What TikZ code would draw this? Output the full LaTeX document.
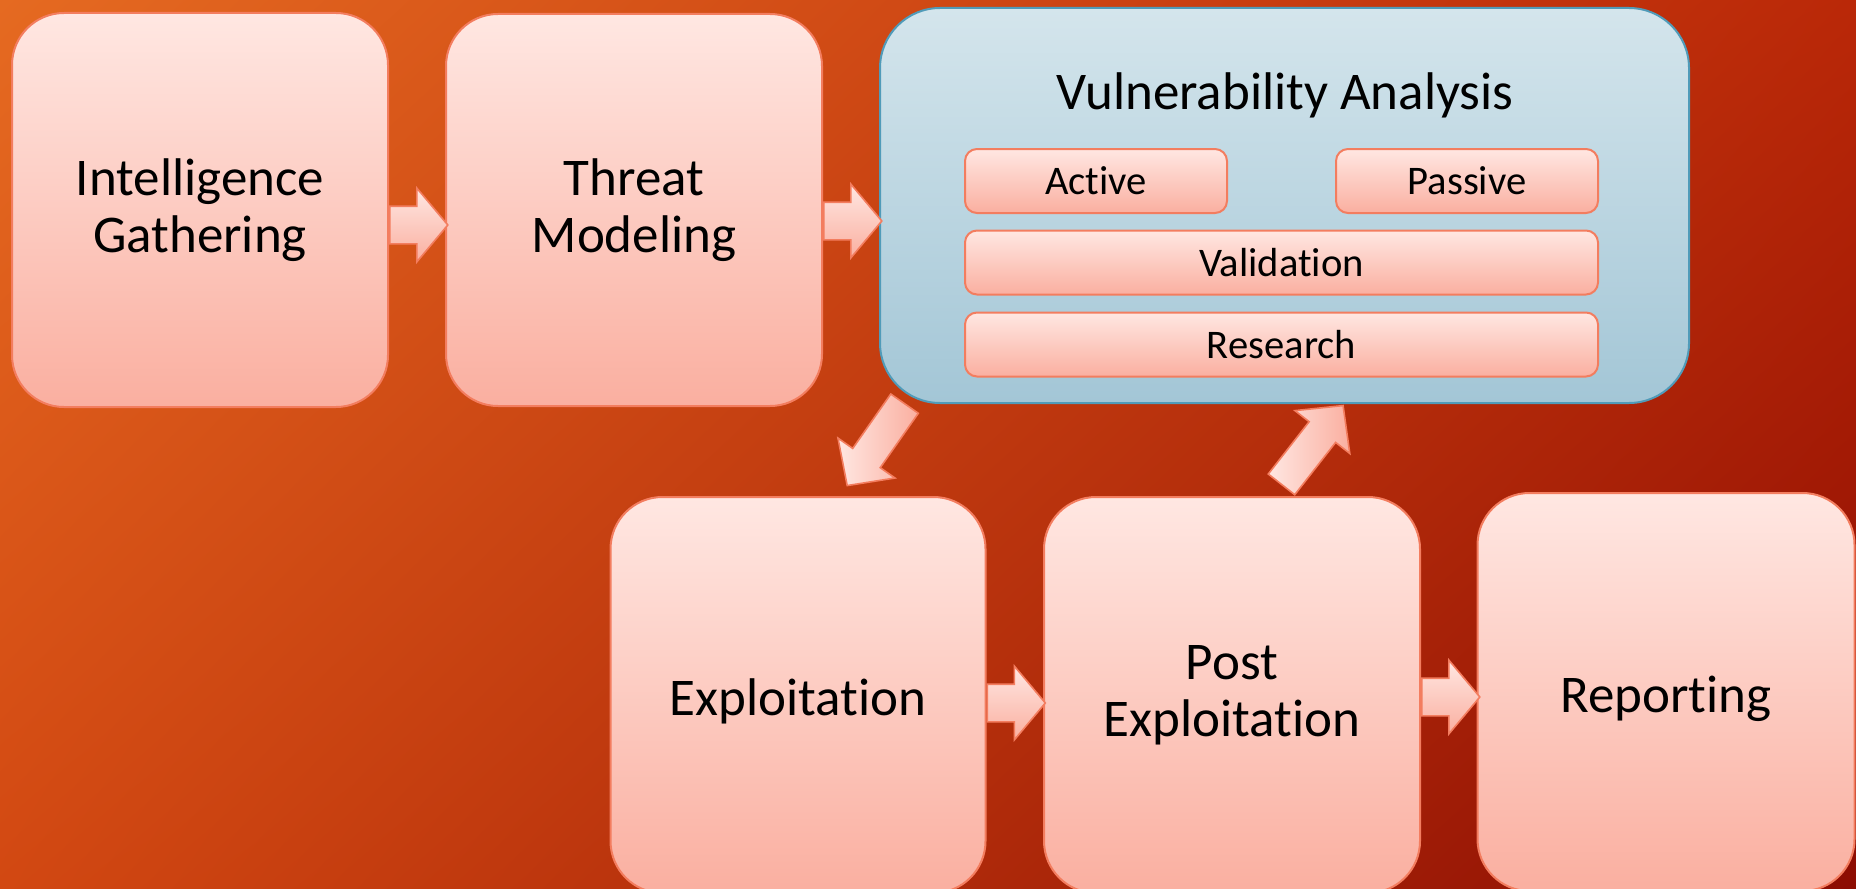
\documentclass[tikz,border=0pt]{standalone}
\usepackage{fontspec}
\setmainfont{Carlito}[Ligatures=NoCommon]
\usetikzlibrary{shapes.arrows,calc,shadings}

\definecolor{bgA}{RGB}{229,106,33}
\definecolor{bgB}{RGB}{186,40,8}
\definecolor{bgC}{RGB}{210,72,18}
\definecolor{bgD}{RGB}{140,12,2}
\definecolor{pinkTop}{RGB}{255,231,226}
\definecolor{pinkBot}{RGB}{250,175,160}
\definecolor{coral}{RGB}{243,125,95}
\definecolor{blueTop}{RGB}{212,229,236}
\definecolor{blueBot}{RGB}{163,198,214}
\definecolor{blueLine}{RGB}{80,155,185}

\tikzset{every picture/.style={line width=1pt}}
\tikzset{
  stage/.style={draw=coral, rounded corners=26pt, top color=pinkTop, bottom color=pinkBot,
    align=center, inner sep=0pt, font=\fontsize{26.5}{28.5}\selectfont,
    execute at begin node=\rule{0pt}{25pt}},
  substage/.style={draw=coral, rounded corners=6pt, top color=pinkTop, bottom color=pinkBot,
    inner sep=0pt, minimum height=32pt, font=\fontsize{20.3}{22}\selectfont},
  vulnbox/.style={draw=blueLine, rounded corners=30pt, top color=blueTop, bottom color=blueBot, inner sep=0pt},
  flatarrow/.style={single arrow, anchor=tail, draw=coral, line width=0.8pt, top color=pinkTop, bottom color=pinkBot,
    inner xsep=0pt, inner ysep=9pt, minimum height=29pt, single arrow head extend=9pt, single arrow tip angle=100},
  slantarrow/.style={single arrow, anchor=tail, draw=coral, line width=0.8pt, left color=pinkTop, right color=pinkBot,
    inner xsep=0pt, inner ysep=8pt, minimum height=50pt, single arrow head extend=9pt, single arrow tip angle=92}
}

\begin{document}
\begin{tikzpicture}[x=0.5pt,y=0.5pt,yscale=-1,xscale=1]
\useasboundingbox (0,0) rectangle (1856,888);
\clip (0,0) rectangle (1856,888);

%Background
\shade [upper left=bgA, upper right=bgB, lower left=bgC, lower right=bgD] (0,0) rectangle (1856,888);

%Top row
\node [stage, minimum width=188pt, minimum height=197pt] (intel) at (200,210) {Intelligence\\Gathering};
\node [stage, minimum width=188pt, minimum height=196pt] (threat) at (634,210) {Threat\\Modeling};
\node [vulnbox, minimum width=404.5pt, minimum height=197.5pt] (vuln) at (1284.5,205.5) {};

% Text Node
\node [font=\fontsize{26.5}{28}\selectfont] (vulntitle) at (1285,95) {Vulnerability Analysis};
\node [substage, minimum width=131pt] (active) at (1096,181) {Active};
\node [substage, minimum width=131pt] (passive) at (1467,181) {Passive};
\node [substage, minimum width=316.5pt] (valid) at (1281.5,262.5) {Validation};
\node [substage, minimum width=316.5pt] (research) at (1281.5,344.5) {Research};

%Bottom row
\node [stage, minimum width=187.5pt, minimum height=198pt] (exploit) at (798,695) {Exploitation};
\node [stage, minimum width=188pt, minimum height=198pt] (post) at (1232,695) {Post\\Exploitation};
\node [stage, minimum width=188.5pt, minimum height=199pt] (report) at (1666,692) {Reporting};

%Block arrows
\node [flatarrow] (a1) at ($(intel.east)+(0,15)$) {};
\node [flatarrow] (a2) at ($(threat.east)+(0,11)$) {};
\node [flatarrow] (a3) at ($(exploit.east)+(0,8)$) {};
\node [flatarrow] (a4) at ($(post.east)+(0,2)$) {};
\node [slantarrow, rotate=235] (d1) at ($(vuln.south west)+(26,-1)$) {};
\node [slantarrow, rotate=52] (d2) at ($(post.north)+(49,-11)$) {};

\end{tikzpicture}
\end{document}
